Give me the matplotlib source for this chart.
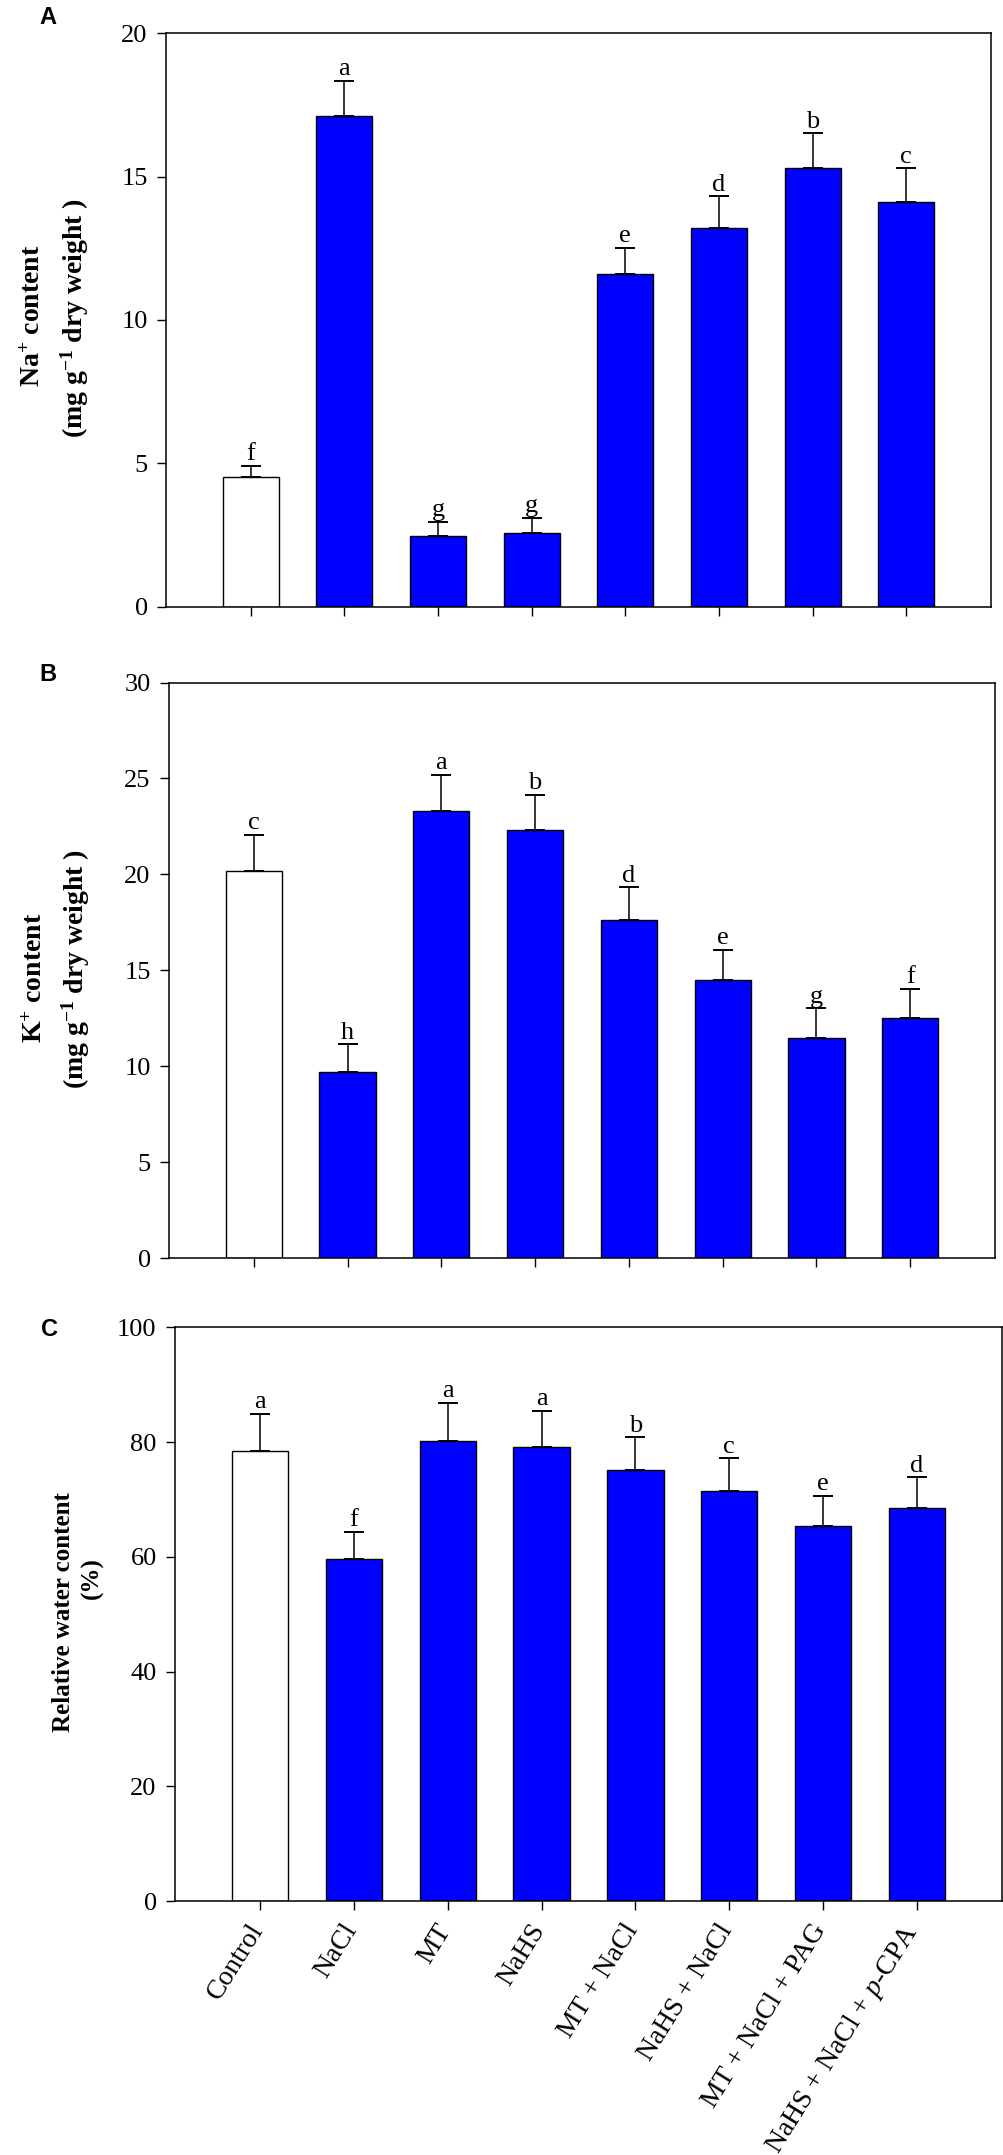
import numpy as np
import matplotlib
matplotlib.use("Agg")
import matplotlib.pyplot as plt
from matplotlib.transforms import ScaledTranslation

plt.rcParams['font.family'] = ['Liberation Serif', 'DejaVu Serif']
plt.rcParams['mathtext.fontset'] = 'custom'
plt.rcParams['mathtext.rm'] = 'Liberation Serif:bold'
plt.rcParams['mathtext.bf'] = 'Liberation Serif:bold'
plt.rcParams['mathtext.it'] = 'Liberation Serif:italic'

treatments = ['Control', 'NaCl', 'MT', 'NaHS', 'MT + NaCl', 'NaHS + NaCl',
              'MT + NaCl + PAG', 'NaHS + NaCl + $p$-CPA']

# panel A - Na+ content
na_mean = [4.52, 17.10, 2.45, 2.56, 11.61, 13.21, 15.31, 14.11]
na_err = [0.39, 1.24, 0.51, 0.54, 0.91, 1.11, 1.21, 1.18]
na_letters = ['f', 'a', 'g', 'g', 'e', 'd', 'b', 'c']

# panel B - K+ content
k_mean = [20.19, 9.70, 23.33, 22.31, 17.63, 14.52, 11.50, 12.52]
k_err = [1.89, 1.44, 1.85, 1.83, 1.69, 1.54, 1.52, 1.52]
k_letters = ['c', 'h', 'a', 'b', 'd', 'e', 'g', 'f']

# panel C - relative water content
rwc_mean = [78.37, 59.53, 80.12, 79.19, 75.12, 71.51, 65.35, 68.43]
rwc_err = [6.51, 4.83, 6.74, 6.28, 5.69, 5.64, 5.29, 5.41]
rwc_letters = ['a', 'f', 'a', 'a', 'b', 'c', 'e', 'd']

W, H = 1004, 2155
fig = plt.figure(figsize=(W / 100, H / 100), dpi=100)


def rect(left, top, right, bottom):
    return [left / W, 1 - bottom / H, (right - left) / W, (bottom - top) / H]


def ylab_line(xpx, ypx, s, size):
    # one line of the rotated y label, anchored on its baseline
    fig.text(xpx / W, 1 - ypx / H, s, rotation=90, rotation_mode='anchor',
             ha='center', va='baseline', fontsize=size, fontweight='bold')


colors = ['white'] + ['#0000ff'] * 7
x = np.arange(len(treatments))

panels = [
    (rect(166, 33.3, 991, 606.7), na_mean, na_err, na_letters, 20, 5, 'A', (48, 17)),
    (rect(169, 682.5, 995, 1258.3), k_mean, k_err, k_letters, 30, 5, 'B', (48, 675)),
    (rect(175, 1327.3, 1002, 1901), rwc_mean, rwc_err, rwc_letters, 100, 20, 'C', (50, 1330)),
]

axes = []
for (r, mean, err, letters, ymax, ystep, tag, tagpos) in panels:
    ax = fig.add_axes(r)
    ax.bar(x, mean, width=0.6, color=colors, edgecolor='black', linewidth=1.0,
           zorder=2)
    ax.errorbar(x, mean, yerr=[np.zeros(len(err)), err], fmt='none',
                ecolor='black', elinewidth=1.1, capsize=7, capthick=1.4,
                zorder=3)
    off = ScaledTranslation(0, 4 / 72, fig.dpi_scale_trans)
    for xi, m, e, lt in zip(x, mean, err, letters):
        ax.text(xi, m + e, lt, ha='center', va='baseline', fontsize=19,
                transform=ax.transData + off)
    ax.set_xlim(-0.905, 7.905)
    ax.set_ylim(0, ymax)
    ax.set_yticks(np.arange(0, ymax + 1, ystep))
    ax.set_xticks(x)
    ax.tick_params(direction='out', length=6.2, width=1.0, labelsize=19,
                   pad=7, top=False, right=False)
    for s in ax.spines.values():
        s.set_linewidth(1.1)
    fig.text(tagpos[0] / W, 1 - tagpos[1] / H, tag, ha='center', va='center',
             fontsize=17, fontweight='bold', family='Liberation Sans')
    axes.append(ax)

ylab_line(40, 316, 'Na$^{+}$ content', 20)
ylab_line(83, 318, '(mg g$^{-1}$ dry weight )', 20)
ylab_line(42, 978, 'K$^{+}$ content', 20)
ylab_line(84, 969, '(mg g$^{-1}$ dry weight )', 20)
ylab_line(70, 1612, 'Relative water content', 18)
ylab_line(98, 1578, '(%)', 18)

axes[0].set_xticklabels([])
axes[1].set_xticklabels([])
axes[2].set_xticklabels(treatments, rotation=58, ha='right', va='top',
                        fontsize=20)
axes[2].tick_params(axis='x', pad=7)
shift = ScaledTranslation(6 / 72, 0, fig.dpi_scale_trans)
for lab in axes[2].get_xticklabels():
    lab.set_transform(lab.get_transform() + shift)

fig.savefig('out.png', dpi=100)
